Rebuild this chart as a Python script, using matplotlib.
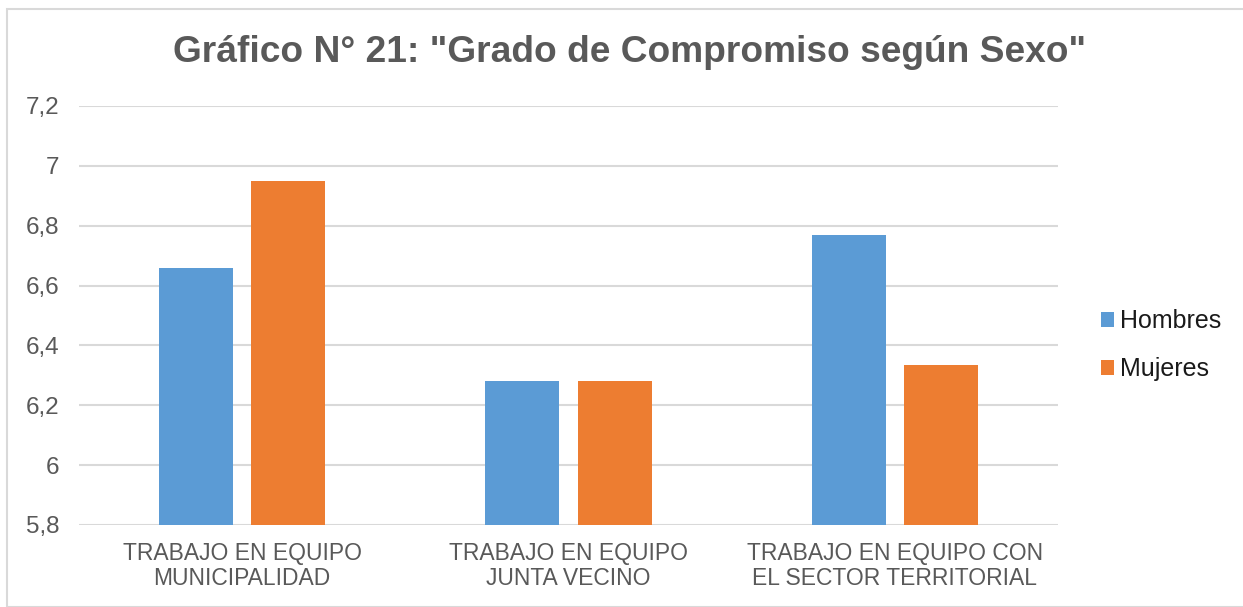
import numpy as np
import matplotlib
matplotlib.use("Agg")
import matplotlib.pyplot as plt
from matplotlib.patches import Rectangle

plt.rcParams["font.family"] = ["Liberation Sans", "DejaVu Sans"]

categories = ["TRABAJO EN EQUIPO\nMUNICIPALIDAD",
              "TRABAJO EN EQUIPO\nJUNTA VECINO",
              "TRABAJO EN EQUIPO CON\nEL SECTOR TERRITORIAL"]
hombres = [6.66, 6.28, 6.77]
mujeres = [6.95, 6.28, 6.335]
yticks = [5.8, 6.0, 6.2, 6.4, 6.6, 6.8, 7.0, 7.2]
ytick_labels = ["5,8", "6", "6,2", "6,4", "6,6", "6,8", "7", "7,2"]

W, H = 1243, 607
fig = plt.figure(figsize=(W / 100, H / 100), dpi=100)
fig.patches.append(Rectangle((7 / W, 0), 1.2, 1 - 9 / H, transform=fig.transFigure,
                             fill=False, edgecolor="#d9d9d9", lw=1.5))
ax = fig.add_axes([79 / W, 1 - 525 / H, (1058 - 79) / W, (525 - 106) / H])

x = np.arange(len(categories))
bw, off = 0.226, 0.1415
ax.bar(x - off, [h - 5.8 for h in hombres], bw, bottom=5.8, color="#5b9bd5", label="Hombres", zorder=3)
ax.bar(x + off, [m - 5.8 for m in mujeres], bw, bottom=5.8, color="#ed7d31", label="Mujeres", zorder=3)

ax.set_xlim(-0.5, len(categories) - 0.5)
ax.set_ylim(5.8, 7.2)
ax.set_yticks(yticks)
ax.set_yticklabels(ytick_labels, fontsize=17.5, color="#595959")
ax.set_xticks(x)
ax.set_xticklabels(categories, fontsize=16.5, color="#595959", linespacing=1.15)
ax.tick_params(length=0, pad=12)
ax.tick_params(axis="y", pad=14)
ax.grid(axis="y", color="#d9d9d9", lw=1.5, zorder=0)
for s in ax.spines.values():
    s.set_visible(False)

fig.text(630 / W, 1 - 53 / H, 'Gráfico N° 21: "Grado de Compromiso según Sexo"',
         ha="center", va="center", fontsize=26.7, fontweight="bold", color="#595959")

ax.legend(loc="center left", bbox_to_anchor=(1078 / W, 1 - 345 / H), bbox_transform=fig.transFigure,
          frameon=False, fontsize=18, handlelength=0.55, handleheight=0.55, handletextpad=0.25,
          labelspacing=0.95, labelcolor="#1a1a1a")

fig.savefig("out.png", dpi=100)
